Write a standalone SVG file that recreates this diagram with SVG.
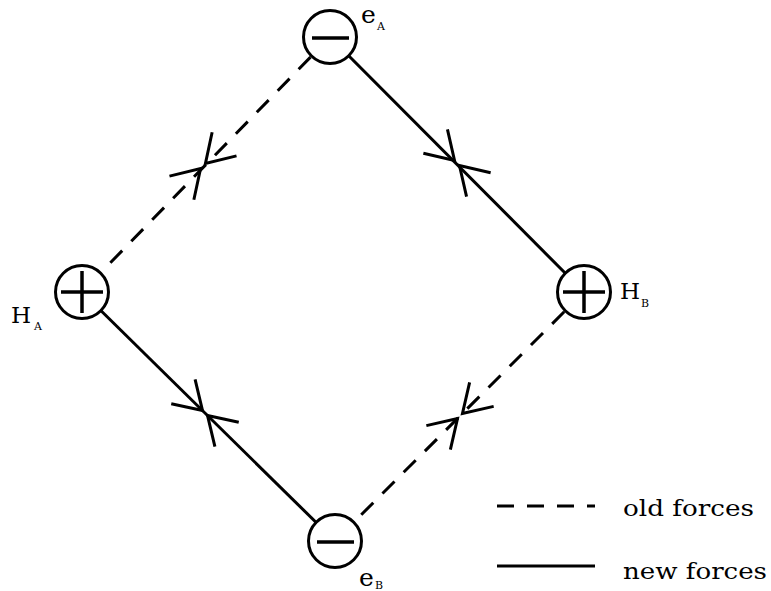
<svg xmlns="http://www.w3.org/2000/svg" xmlns:xlink="http://www.w3.org/1999/xlink" width="771" height="591" viewBox="0 0 771 591">
<style>
.ln{stroke:#000;stroke-width:3;fill:none;stroke-linecap:butt}
.dash{stroke-dasharray:17 13}
.node{fill:#fff;stroke:#000;stroke-width:3}
.sign{stroke:#000;stroke-width:3.5;fill:none}
.lbl{font-family:"DejaVu Serif","Liberation Serif",serif;font-size:23px;fill:#000}
.lble{font-family:"DejaVu Serif","Liberation Serif",serif;font-size:25px;fill:#000}
.sub{font-family:"DejaVu Serif","Liberation Serif",serif;font-size:11px;fill:#000}
.leg{font-family:"DejaVu Serif","Liberation Serif",serif;font-size:23px;fill:#000}
</style>
<defs>
<path id="xmark" d="M-30.6,-17 L-3.5,0 L-30.6,17 M30.6,-17 L3.5,0 L30.6,17" stroke="#000" stroke-width="3" fill="none"/>
</defs>
<rect width="771" height="591" fill="#fff"/>
<g id="connectors">
  <line class="ln dash" x1="310.5" y1="57.1" x2="101.5" y2="271.9"/>
  <line class="ln" x1="330" y1="37" x2="584" y2="292"/>
  <line class="ln" x1="82" y1="292" x2="335" y2="541"/>
  <line class="ln dash" x1="564.2" y1="311.8" x2="354.8" y2="521.2"/>
  <use xlink:href="#xmark" transform="translate(203,166) rotate(-45.8)"/>
  <use xlink:href="#xmark" transform="translate(457,163) rotate(45.1)"/>
  <use xlink:href="#xmark" transform="translate(205,413) rotate(44.5)"/>
  <use xlink:href="#xmark" transform="translate(460,416) rotate(-45)"/>
</g>
<g id="eA">
  <circle class="node" cx="330" cy="37" r="26.5"/>
  <line class="sign" x1="312" y1="38" x2="349" y2="38"/>
  <text class="lble" x="361" y="23">e</text><text class="sub" x="377" y="30">A</text>
</g>
<g id="HA">
  <circle class="node" cx="82" cy="292" r="26.5"/>
  <line class="sign" x1="61" y1="292" x2="103" y2="292"/>
  <line class="sign" x1="82" y1="271" x2="82" y2="313"/>
  <text class="lbl" x="11" y="323">H</text><text class="sub" x="34" y="330">A</text>
</g>
<g id="HB">
  <circle class="node" cx="584" cy="292" r="26.5"/>
  <line class="sign" x1="563" y1="292" x2="605" y2="292"/>
  <line class="sign" x1="584" y1="271" x2="584" y2="313"/>
  <text class="lbl" x="620" y="299">H</text><text class="sub" x="641" y="307">B</text>
</g>
<g id="eB">
  <circle class="node" cx="335" cy="541" r="26.5"/>
  <line class="sign" x1="317" y1="542" x2="354" y2="542"/>
  <text class="lble" x="359" y="586">e</text><text class="sub" x="375" y="589">B</text>
</g>
<g id="legend">
  <line class="ln dash" x1="497" y1="506" x2="595" y2="506"/>
  <line class="ln" x1="497" y1="566" x2="595" y2="566"/>
  <text class="leg" x="623" y="516" textLength="131" lengthAdjust="spacingAndGlyphs">old forces</text>
  <text class="leg" x="623" y="579" textLength="144" lengthAdjust="spacingAndGlyphs">new forces</text>
</g>
</svg>
